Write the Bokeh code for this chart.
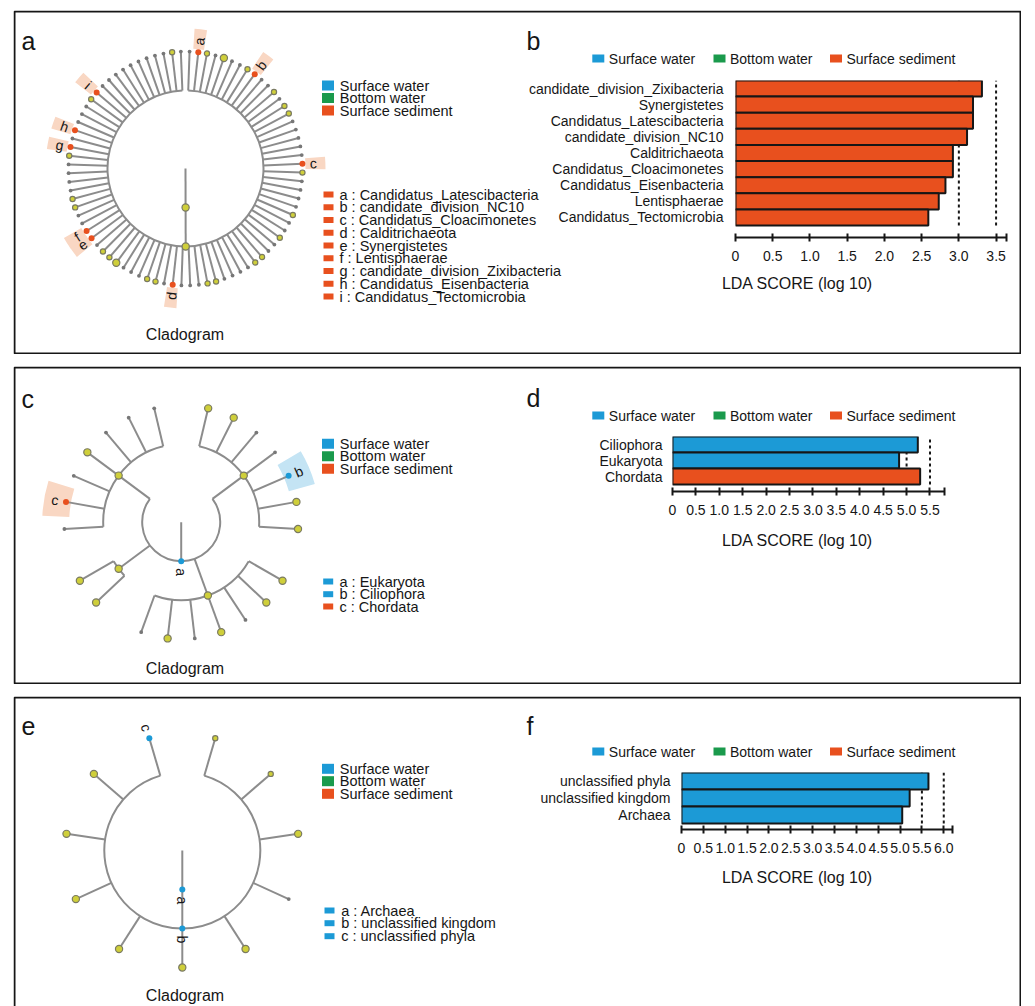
import numpy as np
from bokeh.plotting import figure
from bokeh.layouts import column
from bokeh.models import Range1d, FixedTicker, PrintfTickFormatter, ColumnDataSource
from bokeh.core.properties import value
from bokeh.embed import file_html
from bokeh.resources import INLINE

FONT = "Liberation Sans"
INK = "#161616"
BRANCH = "#8c8c8c"

GROUPS = ["Surface water", "Bottom water", "Surface sediment"]
GROUP_COLORS = ["#1c9ad6", "#1a9a4c", "#e8501e"]
GROUP_SHADES = ["#c4e4f4", "#cbead6", "#f9d7c3"]
CODE_GROUP = {"W": 0, "B": 1, "S": 2}

# ---------------- LDA effect sizes ----------------
b_taxa = ["candidate_division_Zixibacteria", "Synergistetes", "Candidatus_Latescibacteria",
          "candidate_division_NC10", "Calditrichaeota", "Candidatus_Cloacimonetes",
          "Candidatus_Eisenbacteria", "Lentisphaerae", "Candidatus_Tectomicrobia"]
b_lda = [3.31, 3.19, 3.19, 3.11, 2.92, 2.92, 2.82, 2.73, 2.59]
b_group = ["Surface sediment"] * 9
b_thresholds = [3.0, 3.5]
b_ticks = [0, 0.5, 1.0, 1.5, 2.0, 2.5, 3.0, 3.5]

d_taxa = ["Ciliophora", "Eukaryota", "Chordata"]
d_lda = [5.24, 4.84, 5.29]
d_group = ["Surface water", "Surface water", "Surface sediment"]
d_thresholds = [5.0, 5.5]
d_ticks = [0, 0.5, 1.0, 1.5, 2.0, 2.5, 3.0, 3.5, 4.0, 4.5, 5.0, 5.5]

f_taxa = ["unclassified phyla", "unclassified kingdom", "Archaea"]
f_lda = [5.65, 5.22, 5.05]
f_group = ["Surface water"] * 3
f_thresholds = [5.5, 6.0]
f_ticks = [0, 0.5, 1.0, 1.5, 2.0, 2.5, 3.0, 3.5, 4.0, 4.5, 5.0, 5.5, 6.0]

# ---------------- cladograms ----------------
# leaf codes: g = small node, y = yellow node, Y = large yellow node,
# S / W = biomarker of surface sediment / surface water, - = empty slot
a_leaf_codes = ("gSygYggySg" "gygyyggggg" "Syggggyggy" "ggyyggggyy" "gggSgyyggg"
                "YyygSSggyy" "ggggySgSgg" "gySggggggg" "ggyg")
a_tree = ("Y", None, [("Y", None, list(range(84)))])
a_tags = {i: "abcdefghi"[k]
          for k, i in enumerate([j for j, c in enumerate(a_leaf_codes) if c == "S"])}
a_markers = ["Candidatus_Latescibacteria", "candidate_division_NC10", "Candidatus_Cloacimonetes",
             "Calditrichaeota", "Synergistetes", "Lentisphaerae",
             "candidate_division_Zixibacteria", "Candidatus_Eisenbacteria",
             "Candidatus_Tectomicrobia"]
a_marker_groups = ["Surface sediment"] * 9

c_leaf_codes = "gggYgSg-YY-gYgYgYY-YYWggYY-"
c_tree = ("W", "a", [("Y", None, list(range(0, 7))), ("Y", None, [8, 9]),
                     ("Y", None, list(range(11, 18))), ("Y", None, list(range(19, 26)))])
c_tags = {5: "c", 21: "b"}
c_markers = ["Eukaryota", "Ciliophora", "Chordata"]
c_marker_groups = ["Surface water", "Surface water", "Surface sediment"]

e_leaf_codes = "WYYYYYYgYyy"
e_tree = ("W", "a", [("W", "b", list(range(11)))])
e_tags = {0: "c"}
e_markers = ["Archaea", "unclassified kingdom", "unclassified phyla"]
e_marker_groups = ["Surface water"] * 3

DOT = {"g": (3.8, "#777777", None),
       "y": (5.2, "#cfcf3a", "#7a7a62"),
       "Y": (7.2, "#cfcf3a", "#7a7a62")}

W = 1008


def upright(deg):
    a = (deg + 180.0) % 360.0 - 180.0
    if a > 90:
        a -= 180
    elif a < -90:
        a += 180
    return a


def put_text(p, xs, ys, texts, size, align="left", baseline="middle", angles=None):
    src = ColumnDataSource(dict(x=list(xs), y=list(ys), text=list(texts),
                                angle=list(angles) if angles is not None else [0.0] * len(xs)))
    p.text(x="x", y="y", text="text", angle="angle", source=src,
           text_font=value(FONT), text_font_size=value(size), text_color=INK,
           text_align=align, text_baseline=baseline)


def draw_cladogram(p, cx, cy, tree, codes, tags, theta0, step, shade, dr=39.0):
    seg = dict(x0=[], y0=[], x1=[], y1=[])
    arcs = dict(r=[], a0=[], a1=[])
    dots = dict(x=[], y=[], size=[], fill=[], line=[])
    lab = dict(x=[], y=[], text=[], angle=[])
    wed = dict(a0=[], a1=[], color=[])

    def polar(r, ang):
        t = np.radians(ang)
        return cx + r * np.cos(t), cy + r * np.sin(t)

    def place(node, depth):
        if isinstance(node, int):
            ang = theta0 + node * step
            kind, tag = codes[node], tags.get(node)
            if tag and shade:
                half = shade[2] * abs(step)
                wed["a0"].append(np.radians(ang - half))
                wed["a1"].append(np.radians(ang + half))
                wed["color"].append(GROUP_SHADES[CODE_GROUP[kind]])
        else:
            kind, tag, kids = node
            angs = [place(k, depth + 1) for k in kids]
            ang = 0.5 * (angs[0] + angs[-1])
            r0 = depth * dr
            for a in angs:
                x0, y0 = polar(r0, a)
                x1, y1 = polar(r0 + dr, a)
                seg["x0"].append(x0); seg["y0"].append(y0)
                seg["x1"].append(x1); seg["y1"].append(y1)
            if len(angs) > 1:
                arcs["r"].append(r0)
                arcs["a0"].append(np.radians(min(angs)))
                arcs["a1"].append(np.radians(max(angs)))
        if kind is not None:
            x, y = polar(depth * dr, ang)
            if kind in CODE_GROUP:
                size, fill, line = 6.0, GROUP_COLORS[CODE_GROUP[kind]], None
            else:
                size, fill, line = DOT[kind]
            dots["x"].append(x); dots["y"].append(y)
            dots["size"].append(size); dots["fill"].append(fill)
            dots["line"].append(line)
            if tag:
                lx, ly = polar(depth * dr + 11, ang)
                lab["x"].append(lx); lab["y"].append(ly)
                lab["text"].append(tag); lab["angle"].append(np.radians(upright(ang)))
        return ang

    place((None, None, [tree]), 0)

    if wed["a0"]:
        r_leaf = 3 * dr
        p.annular_wedge(x=cx, y=cy, inner_radius=r_leaf + shade[0], outer_radius=r_leaf + shade[1],
                        start_angle="a0", end_angle="a1", fill_color="color", line_color=None,
                        source=ColumnDataSource(wed))
    p.segment(x0="x0", y0="y0", x1="x1", y1="y1", line_color=BRANCH, line_width=2,
              source=ColumnDataSource(seg))
    p.arc(x=cx, y=cy, radius="r", start_angle="a0", end_angle="a1", line_color=BRANCH,
          line_width=2, source=ColumnDataSource(arcs))
    p.scatter(x="x", y="y", size="size", fill_color="fill", line_color="line", line_width=1.2,
              source=ColumnDataSource(dots))
    put_text(p, lab["x"], lab["y"], lab["text"], "14px", align="center", angles=lab["angle"])


def base_figure(h, boxed=True):
    ih = h - 2
    # one data unit per pixel, origin one pixel inside the lower-left corner
    p = figure(width=W, height=h, x_range=Range1d(-1, W - 1), y_range=Range1d(-1, h - 1),
               x_axis_location=None, y_axis_location=None, tools="", title=None,
               toolbar_location=None, output_backend="svg", min_border=0,
               frame_align=False)
    p.grid.grid_line_color = None
    p.background_fill_color = "white"
    p.border_fill_color = "white"
    p.outline_line_color = None
    # panel frame; an open panel runs on below the page edge
    p.quad(left=0, right=W - 2, top=ih, bottom=0 if boxed else -40, fill_color=None,
           line_color=INK, line_width=2)
    return p


def lda_figure(h, taxa, lda, groups, thresholds, ticks, x_end, gap, border, standoff):
    n = len(taxa)
    ys = list(range(n - 1, -1, -1))
    left, right, top, bottom = border
    p = figure(width=W, height=h, x_range=Range1d(0, x_end),
               y_range=Range1d(-0.5 - gap, n - 0.5), tools="", title=None,
               toolbar_location=None, output_backend="svg", frame_align=False,
               min_border_left=left, min_border_right=right,
               min_border_top=top, min_border_bottom=bottom)
    p.background_fill_color = None
    p.border_fill_color = None
    p.outline_line_color = None
    p.grid.grid_line_color = None
    p.segment(x0=thresholds, y0=-0.5, x1=thresholds, y1=n - 0.5, line_color=INK,
              line_width=2, line_dash="3 3")
    src = ColumnDataSource(dict(y=ys, lda=lda, taxon=taxa,
                                color=[GROUP_COLORS[GROUPS.index(g)] for g in groups]))
    p.hbar(y="y", left=0, right="lda", height=1.0, fill_color="color", line_color=INK,
           line_width=2, source=src)

    xa = p.xaxis[0]
    xa.ticker = FixedTicker(ticks=list(ticks) + [x_end])
    xa.formatter = PrintfTickFormatter(format="%.1f")
    xa.major_label_overrides = {0: "0", x_end: ""}
    xa.axis_line_color = INK
    xa.axis_line_width = 2
    xa.major_tick_line_color = INK
    xa.major_tick_line_width = 2
    xa.major_tick_in = 4
    xa.major_tick_out = 4
    xa.minor_tick_line_color = None
    xa.major_label_standoff = 9
    xa.major_label_text_font = FONT
    xa.major_label_text_font_size = "14px"
    xa.major_label_text_color = INK

    ya = p.yaxis[0]
    ya.ticker = FixedTicker(ticks=ys)
    ya.major_label_overrides = {y: t for y, t in zip(ys, taxa)}
    ya.axis_line_color = None
    ya.major_tick_line_color = None
    ya.minor_tick_line_color = None
    ya.major_tick_in = 0
    ya.major_tick_out = 0
    ya.major_label_standoff = standoff
    ya.major_label_text_font = FONT
    ya.major_label_text_font_size = "14px"
    ya.major_label_text_color = INK

    p.margin = (-h, 0, 0, 0)
    return p


def decorate(p, ih, letters, letter_v, clado_v, group_rows_v, marker_rows_v, marker_x,
             markers, marker_groups, bar_legend_v, title_v):
    def Y(v):
        return ih - v
    # panel letters
    put_text(p, [7, 512], [Y(letter_v[0]), Y(letter_v[1])], letters, "25px",
             baseline="alphabetic")
    put_text(p, [170.5], [Y(clado_v)], ["Cladogram"], "16px", align="center",
             baseline="alphabetic")
    # group key beside the cladogram
    p.rect(x=313.5, y=[Y(v) for v in group_rows_v], width=12, height=10,
           fill_color=GROUP_COLORS, line_color=None)
    put_text(p, [325.3] * 3, [Y(v) for v in group_rows_v], GROUPS, "14.5px")
    # biomarker key
    letters_k = "abcdefghi"[:len(markers)]
    p.rect(x=marker_x[0], y=[Y(v) for v in marker_rows_v], width=10, height=6,
           fill_color=[GROUP_COLORS[GROUPS.index(g)] for g in marker_groups], line_color=None)
    key_text = [f"{l}{'  ' if l in 'fi' else ' '}: {m}" for l, m in zip(letters_k, markers)]
    put_text(p, [marker_x[1]] * len(markers), [Y(v) for v in marker_rows_v], key_text, "14.5px")
    # group key above the LDA bars
    sw_x = [583.8, 705.0, 821.5]
    p.rect(x=sw_x, y=Y(bar_legend_v), width=12, height=8, fill_color=GROUP_COLORS,
           line_color=None)
    put_text(p, [x + 10.5 for x in sw_x], [Y(bar_legend_v)] * 3, GROUPS, "14px")
    put_text(p, [783], [Y(title_v)], ["LDA SCORE (log 10)"], "16px", align="center")


# ---------- panel a / b ----------
h1 = 344
ih1 = h1 - 2
pa = base_figure(h1)
draw_cladogram(pa, 171, ih1 - 157, a_tree, a_leaf_codes, a_tags, 88.0, -360.0 / 84,
               shade=(3, 23, 0.6))
decorate(pa, ih1, ["a", "b"], (29, 29), 322.5, [74, 86.5, 99],
         [183 + 12.75 * k for k in range(9)], (314, 325), a_markers, a_marker_groups, 47, 272)
pb = lda_figure(h1, b_taxa, b_lda, b_group, b_thresholds, b_ticks, 3.64, 0.745,
                (722, 15, 70, 117), 12)

# ---------- panel c / d ----------
h2 = 318
ih2 = h2 - 2
pc = base_figure(h2)
draw_cladogram(pc, 166.7, ih2 - 154.7, c_tree, c_leaf_codes, c_tags, 90 + 360.0 / 27,
               360.0 / 27, shade=(-5, 22, 0.55))
decorate(pc, ih2, ["c", "d"], (31, 30.5), 301, [76.3, 88.7, 101.3], [214, 226.7, 239],
         (313.7, 325), c_markers, c_marker_groups, 48, 173)
pd = lda_figure(h2, d_taxa, d_lda, d_group, d_thresholds, d_ticks, 5.81, 0.4375,
                (659, 77, 70, 193), 10)

# ---------- panel e / f ----------
h3 = 310
ih3 = h3 - 2
pe = base_figure(h3, boxed=False)
draw_cladogram(pe, 167.8, ih3 - 153, e_tree, e_leaf_codes, e_tags, 270 - 5 * 360.0 / 11,
               360.0 / 11, shade=None)
decorate(pe, ih3, ["e", "f"], (28, 28), 298, [71.3, 83.7, 96.3], [213, 225.7, 238.7],
         (315, 326.7), e_markers, e_marker_groups, 54, 179.7)
pf = lda_figure(h3, f_taxa, f_lda, f_group, f_thresholds, f_ticks, 6.2, 0.353,
                (668, 69, 76, 177), 11)

page = column(column(pa, pb, spacing=0), column(pc, pd, spacing=0),
              column(pe, pf, spacing=0), spacing=12, margin=(10, 0, 0, 13))

open("out.html", "w").write(file_html(page, INLINE, title="LEfSe"))
